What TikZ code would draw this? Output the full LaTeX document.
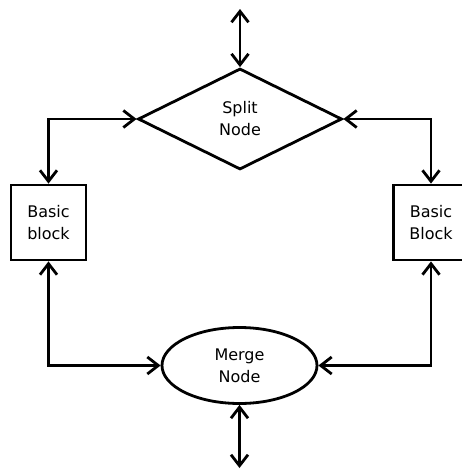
\documentclass[tikz,border=0pt]{standalone}
\usepackage{fontspec}
\setmainfont{DejaVu Sans}
\usetikzlibrary{shapes.geometric,arrows.meta}
\begin{document}
\begin{tikzpicture}[x=1pt,y=-1pt,
  every node/.style={draw, line width=2.8pt, inner sep=0pt, align=center,
    font=\fontsize{16}{22}\selectfont},
  boxnode/.style={rectangle, minimum width=75pt, minimum height=75pt},
  link/.style={line width=2.8pt, {Straight Barb[length=11pt,width=17pt]}-{Straight Barb[length=11pt,width=17pt]}}
]
\useasboundingbox (0,0) rectangle (461,471);
\node[diamond, minimum width=204pt, minimum height=101pt] (split) at (240,119) {Split\\Node};
\node[boxnode] (bbl) at (48.5,222.5) {Basic\\block};
\node[boxnode] (bbr) at (431,222.5) {Basic\\Block};
\node[ellipse, minimum width=155pt, minimum height=76pt] (merge) at (239.5,365.5) {Merge\\Node};
\coordinate (top) at (240,9);
\coordinate (bottom) at (239.5,468);
\draw[link] (top) -- (split.north);
\draw[link] (split.west) -| (bbl.north);
\draw[link] (split.east) -| (bbr.north);
\draw[link] (bbl.south) |- (merge.west);
\draw[link] (bbr.south) |- (merge.east);
\draw[link] (merge.south) -- (bottom);
\end{tikzpicture}
\end{document}
